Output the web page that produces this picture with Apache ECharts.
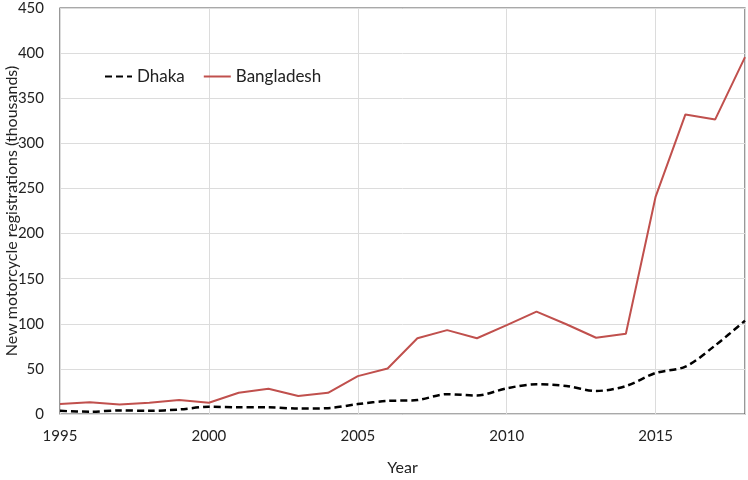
<!DOCTYPE html>
<html><head><meta charset="utf-8">
<script src="https://cdn.jsdelivr.net/npm/echarts@6/dist/echarts.min.js"></script>
<style>html,body{margin:0;padding:0;background:#fff}#c{width:748px;height:480px}</style>
</head><body><div id="c"></div>
<script>
const years = [1995,1996,1997,1998,1999,2000,2001,2002,2003,2004,2005,2006,2007,2008,2009,2010,2011,2012,2013,2014,2015,2016,2017,2018];
const dhaka = [3.5,2.5,4,3.5,5,8,7.5,7.5,6,6.5,11,14.5,15.5,22,20.5,28.5,33,31,25.5,31,45.5,52.5,76,103.5];
const bangladesh = [11,13,10.5,12.5,15.5,12.5,23.5,28,20,23.5,42,50.5,84,93,84,98.5,113.5,99.5,84.5,89,241,332,326.5,395.5];
const xTicks = {min:1995, max:2018, interval:5};
const yTicks = {min:0, max:450, interval:50};
const font = 'Lato, "Open Sans", sans-serif';
const chart = echarts.init(document.getElementById('c'));
chart.setOption({
  animation:false,
  grid:{left:60,right:3,top:8,bottom:66,show:true,borderColor:'#555',borderWidth:1.2,containLabel:false,outerBoundsMode:'none'},
  legend:{left:99,top:63,itemGap:18,itemWidth:27,itemHeight:14,
    itemStyle:{opacity:0},
    textStyle:{fontFamily:font,fontSize:17,color:'#222'},
    data:['Dhaka','Bangladesh']},
  xAxis:{type:'value',min:xTicks.min,max:xTicks.max,interval:xTicks.interval,
    name:'Year',nameLocation:'middle',nameGap:46,nameMoveOverlap:false,
    nameTextStyle:{fontFamily:font,fontSize:16,color:'#222'},
    axisLine:{show:false},axisTick:{show:false},
    axisLabel:{fontFamily:font,fontSize:15,color:'#222',margin:15,showMaxLabel:false,formatter:v=>String(v)},
    splitLine:{show:true,lineStyle:{color:'#dcdcdc',width:1}}},
  yAxis:{type:'value',min:yTicks.min,max:yTicks.max,interval:yTicks.interval,
    name:'New motorcycle registrations (thousands)',nameLocation:'middle',nameGap:40,nameMoveOverlap:false,
    nameTextStyle:{fontFamily:font,fontSize:16,color:'#222'},
    axisLine:{show:false},axisTick:{show:false},
    axisLabel:{fontFamily:font,fontSize:15,color:'#222',margin:16},
    splitLine:{show:true,lineStyle:{color:'#dcdcdc',width:1}}},
  series:[
    {name:'Dhaka',type:'line',data:years.map((y,i)=>[y,dhaka[i]]),smooth:0.3,
      symbol:'none',itemStyle:{color:'#000'},lineStyle:{color:'#000',width:2.5,type:[7,4]}},
    {name:'Bangladesh',type:'line',data:years.map((y,i)=>[y,bangladesh[i]]),
      symbol:'none',itemStyle:{color:'#c0504d'},lineStyle:{color:'#c0504d',width:2}}
  ]
});
</script></body></html>
